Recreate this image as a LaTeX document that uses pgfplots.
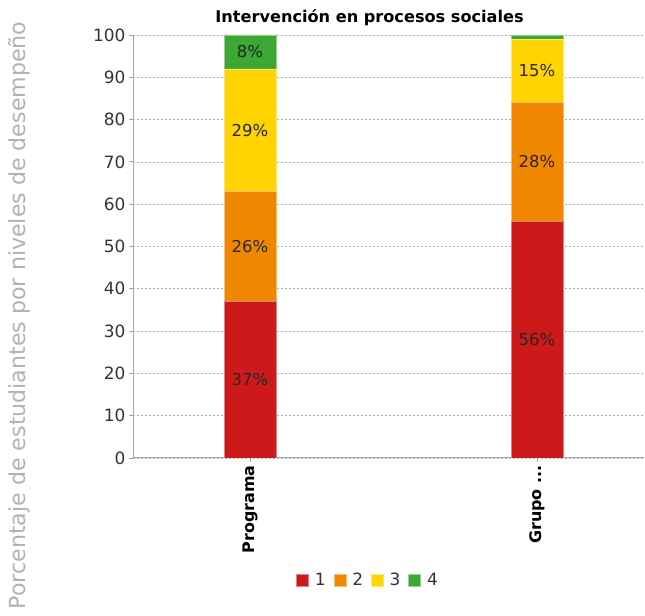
\documentclass[border=0pt]{standalone}
\usepackage{pgfplots}
\pgfplotsset{compat=1.18}
\usepackage{fontspec}
\setmainfont{DejaVu Sans}
\definecolor{c1}{RGB}{206,25,27}
\definecolor{c2}{RGB}{240,135,0}
\definecolor{c3}{RGB}{255,212,0}
\definecolor{c4}{RGB}{60,168,52}
\definecolor{tk}{RGB}{51,51,51}
\newcommand\grp{Grupo .{}.{}.}
\pgfplotsset{
  base/.style={
    at={(133bp,158bp)}, anchor=south west,
    scale only axis, width=511bp, height=423bp,
    xmin=-0.4077, xmax=1.3728, ymin=0, ymax=100,
  },
  sq/.style={legend image code/.code={\fill[##1] (0bp,-6bp) rectangle (12bp,6bp);}},
}
\begin{document}
\begin{tikzpicture}
\useasboundingbox (0,0) rectangle (645bp,616bp);
\begin{axis}[base,
  ybar stacked, bar width=52bp,
  axis x line*=bottom, axis y line*=left,
  axis line style={draw=black!35, line width=1bp},
  ytick={0,10,20,30,40,50,60,70,80,90,100},
  xtick={0,1}, xticklabels={Programa,\grp},
  tick align=outside, major tick length=4bp,
  tick style={draw=black!35, line width=0.8bp},
  ymajorgrids, grid style={draw=black!30, dash pattern=on 2bp off 2bp, line width=0.6bp},
  /pgf/number format/assume math mode=true,
  yticklabel style={font=\fontsize{17}{20}\selectfont, text=tk},
  xticklabel style={font=\fontsize{16}{19}\selectfont\bfseries, rotate=90, anchor=east, text=black},
  ylabel={Porcentaje de estudiantes por niveles de desempeño},
  ylabel style={at={(axis description cs:-0.223,0.337)}, anchor=center, font=\fontsize{22.2}{26}\selectfont, text=black!30},
  title={Intervención en procesos sociales},
  title style={at={(axis description cs:0.463,1)}, anchor=base, yshift=7bp, font=\fontsize{16.2}{19}\selectfont\bfseries},
  legend columns=4,
  legend style={at={(axis description cs:0.46,-0.288)}, anchor=center, draw=none, fill=none, font=\fontsize{17}{20}\selectfont, text=tk,
    /tikz/every odd column/.append style={column sep=4bp},
    /tikz/every even column/.append style={column sep=6bp}},
]
\addplot[fill=c1, draw=c1!55!white, line width=0.6bp, sq] coordinates {(0,37) (1,56)};
\addplot[fill=c2, draw=c2!55!white, line width=0.6bp, sq] coordinates {(0,26) (1,28)};
\addplot[fill=c3, draw=c3!55!white, line width=0.6bp, sq] coordinates {(0,29) (1,15)};
\addplot[fill=c4, draw=c4!55!white, line width=0.6bp, sq] coordinates {(0,8) (1,1)};
\legend{1,2,3,4}
\end{axis}
\begin{axis}[base, hide axis]
\addplot[draw=none, mark=none, nodes near coords, point meta=explicit symbolic,
  every node near coord/.append style={anchor=center, font=\fontsize{16.5}{19}\selectfont, text=black!85}]
  coordinates {(0,18.5)[37\%] (0,50)[26\%] (0,77.5)[29\%] (0,96)[8\%] (1,28)[56\%] (1,70)[28\%] (1,91.5)[15\%]};
\end{axis}
\end{tikzpicture}
\end{document}
